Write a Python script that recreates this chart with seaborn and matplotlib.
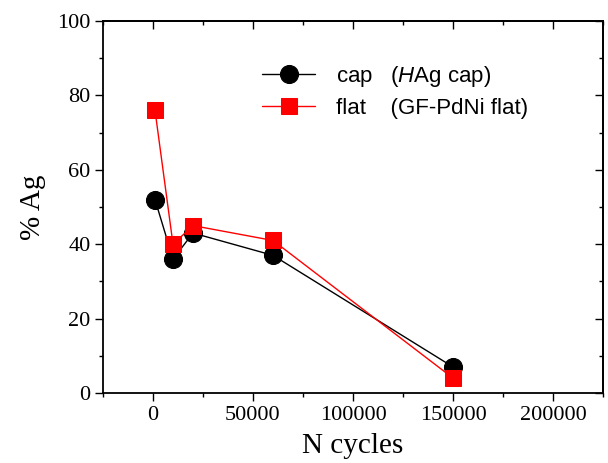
import numpy as np
import pandas as pd
import matplotlib
matplotlib.use("Agg")
import matplotlib.pyplot as plt
import seaborn as sns
from matplotlib.ticker import MultipleLocator

# data
cycles = [1000, 10000, 20000, 60000, 150000]
ag_cap = [52, 36, 43, 37, 7]
ag_flat = [76, 40, 45, 41, 4]
label_cap = "cap   ($\\mathit{H}$Ag cap)"
label_flat = "flat    (GF-PdNi flat)"

sns.set_style("ticks")
plt.rcParams['font.family'] = ['Liberation Serif', 'DejaVu Serif']
plt.rcParams['mathtext.fontset'] = 'custom'
plt.rcParams['mathtext.rm'] = 'Liberation Sans'
plt.rcParams['mathtext.it'] = 'Liberation Sans:italic'
for k in ['axes.edgecolor', 'xtick.color', 'ytick.color', 'text.color', 'axes.labelcolor']:
    plt.rcParams[k] = 'black'

df = pd.DataFrame({'cycles': cycles, 'cap': ag_cap, 'flat': ag_flat})

fig = plt.figure(figsize=(6.08, 4.63), dpi=100)
ax = fig.add_axes([103 / 608, 70 / 463, 500 / 608, 372 / 463])

sns.lineplot(data=df, x='cycles', y='cap', ax=ax, color='black', lw=1,
             marker='o', markersize=13, markeredgecolor='black', label=label_cap)
sns.lineplot(data=df, x='cycles', y='flat', ax=ax, color='red', lw=1,
             marker='s', markersize=12, markeredgecolor='red', label=label_flat)

ax.set_xlim(-25000, 225000)
ax.set_ylim(0, 100)
ax.xaxis.set_major_locator(MultipleLocator(50000))
ax.xaxis.set_minor_locator(MultipleLocator(25000))
ax.yaxis.set_major_locator(MultipleLocator(20))
ax.yaxis.set_minor_locator(MultipleLocator(10))

for s in ax.spines.values():
    s.set_linewidth(1.3)
    s.set_visible(True)
ax.tick_params(which='major', direction='out', length=6, width=1, labelsize=16, pad=3)
ax.tick_params(which='minor', direction='out', length=3, width=1)

# mirrored inward ticks on top and right
top = ax.secondary_xaxis('top')
top.xaxis.set_major_locator(MultipleLocator(50000))
top.xaxis.set_minor_locator(MultipleLocator(25000))
top.tick_params(which='major', direction='in', length=6, width=1, labeltop=False)
top.tick_params(which='minor', direction='in', length=3, width=1)
top.spines['top'].set_linewidth(1.3)
right = ax.secondary_yaxis('right')
right.yaxis.set_major_locator(MultipleLocator(20))
right.yaxis.set_minor_locator(MultipleLocator(10))
right.tick_params(which='major', direction='in', length=6, width=1, labelright=False)
right.tick_params(which='minor', direction='in', length=3, width=1)
right.spines['right'].set_linewidth(1.3)

ax.set_xlabel("N cycles", fontsize=21, labelpad=6)
ax.set_ylabel("% Ag", fontsize=21, labelpad=8)

ax.legend(loc='upper left', bbox_to_anchor=(0.318, 0.884), frameon=False,
          prop={'family': 'Liberation Sans', 'size': 16}, borderpad=0, borderaxespad=0,
          handlelength=2.4, handletextpad=0.95, labelspacing=0.4)

fig.savefig("out.png", dpi=100)
